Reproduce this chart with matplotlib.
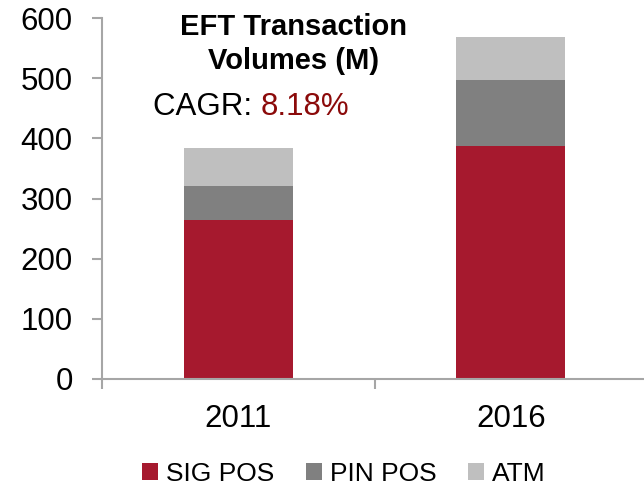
import matplotlib.pyplot as plt
import numpy as np

plt.rcParams['font.family'] = ['Liberation Sans', 'DejaVu Sans']

years = ['2011', '2016']
sig_pos = [265, 388]
pin_pos = [55, 109]
atm = [64, 72]
cagr = '8.18%'

red = '#A6192E'
dark_grey = '#808080'
light_grey = '#BFBFBF'
axis_col = '#A6A6A6'

fig = plt.figure(figsize=(6.44, 4.87), dpi=100)
ax = fig.add_axes([102 / 644, 108 / 487, 545 / 644, 361 / 487])

x = np.arange(len(years))
w = 0.4
ax.bar(x, sig_pos, w, color=red, label='SIG POS')
ax.bar(x, pin_pos, w, bottom=sig_pos, color=dark_grey, label='PIN POS')
ax.bar(x, atm, w, bottom=np.add(sig_pos, pin_pos), color=light_grey, label='ATM')

ax.set_xlim(-0.5, 1.5)
ax.set_ylim(0, 600)
ax.set_yticks(range(0, 601, 100))

# boundary ticks on x axis, labels sit on the categories
ax.set_xticks([-0.5, 0.5, 1.5])
ax.set_xticklabels([])
ax.set_xticks(x, minor=True)
ax.set_xticklabels(years, minor=True)
ax.tick_params(axis='x', which='major', length=7, width=1.5, color=axis_col)
ax.tick_params(axis='x', which='minor', length=0, pad=18, labelsize=22.5)
ax.tick_params(axis='y', length=7, width=1.5, color=axis_col, pad=14, labelsize=22.5)

for s in ['top', 'right']:
    ax.spines[s].set_visible(False)
for s in ['left', 'bottom']:
    ax.spines[s].set_color(axis_col)
    ax.spines[s].set_linewidth(1.5)

fig.text(294 / 644, 1 - 44 / 487, 'EFT Transaction\nVolumes (M)',
         ha='center', va='center', fontsize=21, fontweight='bold', linespacing=1.25)
fig.text(153 / 644, 1 - 107 / 487, 'CAGR: ', ha='left', va='center', fontsize=22.5)
t = fig.text(153 / 644, 1 - 107 / 487, 'CAGR: ', ha='left', va='center', fontsize=22.5, alpha=0)
fig.canvas.draw()
bb = t.get_window_extent()
fig.text(bb.x1 / 644, 1 - 107 / 487, cagr, ha='left', va='center', fontsize=22.5, color='#8B0A0A')

fig.legend(loc='center', bbox_to_anchor=(344 / 644, 1 - 474 / 487), ncol=3, frameon=False,
           fontsize=19, handlelength=0.6, handleheight=0.6, handletextpad=0.3,
           columnspacing=1.2)

fig.savefig('out.png', dpi=100)
